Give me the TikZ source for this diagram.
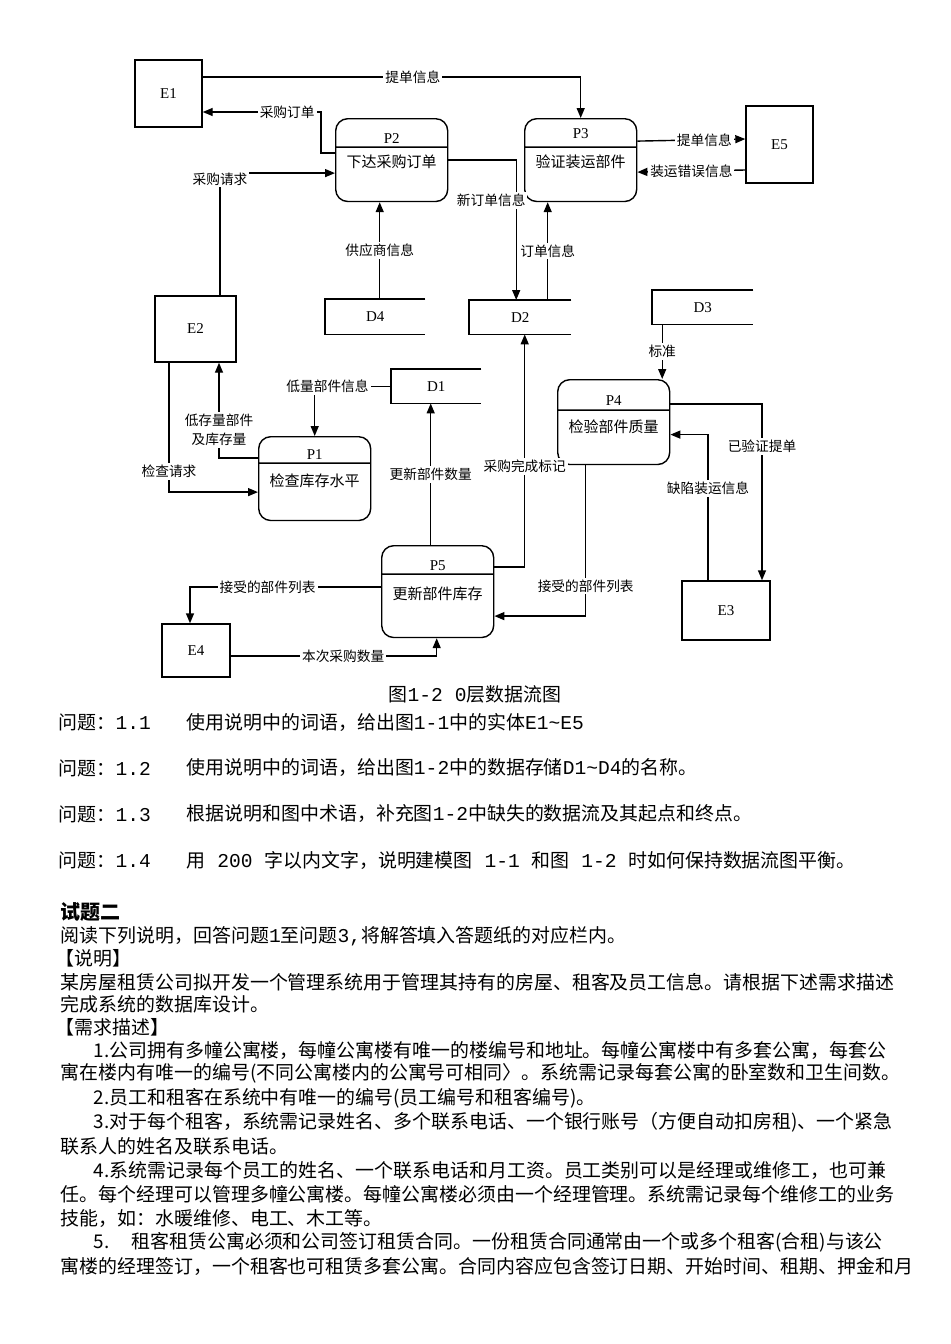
\documentclass[tikz,border=0pt]{standalone}
\usepackage{fontspec}
\setmainfont{Liberation Serif}
\newfontfamily\cjk{Noto Sans CJK SC}
\newfontfamily\monof{Liberation Mono}[Scale=1.035]
\usetikzlibrary{shapes.multipart,arrows.meta,calc}

\begin{document}
\begin{tikzpicture}[
    x=0.5pt, y=-0.5pt,
    line width=0.7pt,
    entity/.style={rectangle, draw=black, inner sep=0pt, font=\fontsize{7.5}{9}\selectfont},
    proc/.style={rectangle split, rectangle split parts=2, draw=black, rounded corners=6pt, inner sep=0pt, anchor=north west, font=\fontsize{7.5}{9}\selectfont},
    store/.style={rectangle, inner sep=0pt, anchor=north west, font=\fontsize{7.5}{9}\selectfont},
    flow/.style={->, >={Triangle[length=5pt,width=4pt]}},
    lbl/.style={fill=white, inner sep=1pt, font=\cjk\fontsize{6.85}{9.5}\selectfont},
    txt/.style={anchor=west, inner sep=0pt, font=\cjk\fontsize{9.47}{12}\selectfont}
]
\useasboundingbox (0,0) rectangle (950,1344);

% External entities
\node[entity, minimum width=33.5pt, minimum height=33.5pt] (e1) at (168.5,93.5) {E1};
\node[entity, minimum width=40.5pt, minimum height=33pt] (e2) at (195.5,329) {E2};
\node[entity, minimum width=44pt, minimum height=29.5pt] (e3) at (726,610.5) {E3};
\node[entity, minimum width=34pt, minimum height=26.5pt] (e4) at (196,650.5) {E4};
\node[entity, minimum width=33.5pt, minimum height=38.5pt] (e5) at (779.5,144.5) {E5};

% Processes
\node[proc] (p1) at (258,436) {\parbox[c][12.5pt][b]{56pt}{\centering P1\par\vspace{1.5pt}}\nodepart{two}\parbox[t][28pt][t]{56pt}{\centering\vspace{5pt}\cjk 检查库存水平}};
\node[proc] (p2) at (335,118) {\parbox[c][13.5pt][b]{56pt}{\centering P2\par\vspace{1.5pt}}\nodepart{two}\parbox[t][26.5pt][t]{56pt}{\centering\vspace{3.6pt}\cjk 下达采购订单}};
\node[proc] (p3) at (524,118) {\parbox[c][13.5pt][b]{56pt}{\centering P3\par\vspace{4pt}}\nodepart{two}\parbox[t][26.5pt][t]{56pt}{\centering\vspace{3.6pt}\cjk 验证装运部件}};
\node[proc] (p4) at (557,379) {\parbox[c][14.5pt][b]{56pt}{\centering P4\par\vspace{2pt}}\nodepart{two}\parbox[t][26.5pt][t]{56pt}{\centering\vspace{4.6pt}\cjk 检验部件质量}};
\node[proc] (p5) at (381,545) {\parbox[c][13.5pt][b]{56pt}{\centering P5\par\vspace{1.5pt}}\nodepart{two}\parbox[t][31pt][t]{56pt}{\centering\vspace{6pt}\cjk 更新部件库存}};

% Data stores (open on the right)
\node[store, minimum width=44.5pt, minimum height=16.5pt] (d1) at (391,369) {D1};
\node[store, minimum width=50.5pt, minimum height=16.5pt] (d2) at (469,300) {D2};
\node[store, minimum width=50pt, minimum height=16.5pt] (d3) at (652,290) {D3};
\node[store, minimum width=49.5pt, minimum height=17pt] (d4) at (325,299) {D4};
\foreach \s in {d1,d2,d3,d4}
    \draw (\s.north east) -- (\s.north west) -- (\s.south west) -- (\s.south east);

% Data flows
\draw[flow] ($(e1.east)+(0,-16.5)$) -| node[lbl, pos=0.278] (f1) {提单信息} (p3.north);
\draw[flow] ($(p2.west)+(0,-7)$) -- ++(-14,0) |- node[lbl, pos=0.643] (f2) {采购订单} ($(e1.east)+(0,18.5)$);
\draw[flow] ($(e2.north)+(24.5,0)$) |- node[lbl, pos=0.5, yshift=-3pt] (f3) {采购请求} ($(p2.west)+(0,13)$);
\draw[flow] ($(d4.north)+(4.5,0)$) -- node[lbl] (f4) {供应商信息} ($(p2.south)+(-12,0)$);
\draw[flow] (p2.east) -| node[lbl, pos=0.644, xshift=-12.5pt] (f5) {新订单信息} ($(d2.north)+(-4,0)$);
\draw[flow] ($(d2.north)+(27.5,0)$) -- node[lbl] (f6) {订单信息} ($(p3.south)+(-33,0)$);
\draw[flow] ($(p3.east)+(0,-19)$) -- node[lbl, pos=0.62] (f7) {提单信息} ($(e5.west)+(0,-5.5)$);
\draw[flow] ($(e5.west)+(0,25.5)$) -- node[lbl, pos=0.5] (f8) {装运错误信息} ($(p3.east)+(0,12)$);
\draw[flow] (d1.west) -| node[lbl, pos=0.416] (f9) {低量部件信息} (p1.north);
\draw[flow] ($(p1.west)+(0,-20.5)$) -| node[lbl, pos=0.649, align=center] (f10) {低存量部件\\及库存量} ($(e2.south)+(23.5,0)$);
\draw[flow] ($(e2.south)+(-26.5,0)$) |- node[lbl, pos=0.42] (f11) {检查请求} ($(p1.west)+(0,13.5)$);
\draw[flow] ($(p5.north)+(-7,0)$) -- node[lbl] (f12) {更新部件数量} ($(d1.south)+(-5.5,0)$);
\draw[flow] ($(p5.east)+(0,-24.5)$) -| node[lbl, pos=0.716] (f13) {采购完成标记} ($(d2.south)+(4.5,0)$);
\draw[flow] ($(d3.south)+(-40.5,0)$) -- node[lbl] (f14) {标准} ($(p4.north)+(48.5,0)$);
\draw[flow] ($(p4.east)+(0,-18)$) -| node[lbl, pos=0.62] (f15) {已验证提单} ($(e3.north)+(36,0)$);
\draw[flow] ($(e3.north)+(-18,0)$) |- node[lbl, pos=0.315] (f16) {缺陷装运信息} ($(p4.east)+(0,12.5)$);
\draw[flow] ($(p4.south)+(-28,0)$) |- node[lbl, pos=0.40] (f17) {接受的部件列表} ($(p5.east)+(0,24.5)$);
\draw[flow] ($(p5.west)+(0,-4.5)$) -| node[lbl, pos=0.297] (f18) {接受的部件列表} ($(e4.north)+(-6,0)$);
\draw[flow] ($(e4.east)+(0,5.5)$) -| node[lbl, pos=0.273] (f19) {本次采购数量} ($(p5.south)+(-1,0)$);

% Caption
\node[inner sep=0pt, font=\cjk\fontsize{9.47}{12}\selectfont] (cap) at (475,694) {图{\monof 1-2 0}层数据流图};

% Questions
\node[txt] (q1n) at (58,722) {问题：{\monof 1.1}};
\node[txt] (q1) at (186,722) {使用说明中的词语，给出图{\monof 1-1}中的实体{\monof E1\textasciitilde E5}};
\node[txt] (q2n) at (58,768) {问题：{\monof 1.2}};
\node[txt] (q2) at (186,768) {使用说明中的词语，给出图{\monof 1-2}中的数据存储{\monof D1\textasciitilde D4}的名称。};
\node[txt] (q3n) at (58,814) {问题：{\monof 1.3}};
\node[txt] (q3) at (186,814) {根据说明和图中术语，补充图{\monof 1-2}中缺失的数据流及其起点和终点。};
\node[txt] (q4n) at (58,860) {问题：{\monof 1.4}};
\node[txt] (q4) at (186,860) {用{\monof\ 200 }字以内文字，说明建模图{\monof\ 1-1 }和图{\monof\ 1-2 }时如何保持数据流图平衡。};

% Second exercise
\node[txt, font=\cjk\bfseries\fontsize{10}{12}\selectfont] (h2) at (60,912) {试题二};
\node[txt] (l1) at (60,936) {阅读下列说明，回答问题{\monof 1}至问题{\monof 3,}将解答填入答题纸的对应栏内。};
\node[txt] (l2) at (55,958) {【说明】};
\node[txt] (l3) at (60,982) {某房屋租赁公司拟开发一个管理系统用于管理其持有的房屋、租客及员工信息。请根据下述需求描述};
\node[txt] (l4) at (60,1004) {完成系统的数据库设计。};
\node[txt] (l5) at (55,1027) {【需求描述】};
\node[txt] (l6) at (93,1050) {1.公司拥有多幢公寓楼，每幢公寓楼有唯一的楼编号和地址。每幢公寓楼中有多套公寓，每套公};
\node[txt] (l7) at (60,1073) {寓在楼内有唯一的编号(不同公寓楼内的公寓号可相同〉。系统需记录每套公寓的卧室数和卫生间数。};
\node[txt] (l8) at (93,1098) {2.员工和租客在系统中有唯一的编号(员工编号和租客编号)。};
\node[txt] (l9) at (93,1122) {3.对于每个租客，系统需记录姓名、多个联系电话、一个银行账号（方便自动扣房租)、一个紧急};
\node[txt] (l10) at (60,1146) {联系人的姓名及联系电话。};
\node[txt] (l11) at (93,1170) {4.系统需记录每个员工的姓名、一个联系电话和月工资。员工类别可以是经理或维修工，也可兼};
\node[txt] (l12) at (60,1194) {任。每个经理可以管理多幢公寓楼。每幢公寓楼必须由一个经理管理。系统需记录每个维修工的业务};
\node[txt] (l13) at (60,1218) {技能，如：水暖维修、电工、木工等。};
\node[txt] (l14) at (93,1242) {5.\hspace{11pt}租客租赁公寓必须和公司签订租赁合同。一份租赁合同通常由一个或多个租客(合租)与该公};
\node[txt] (l15) at (60,1266) {寓楼的经理签订，一个租客也可租赁多套公寓。合同内容应包含签订日期、开始时间、租期、押金和月};

\end{tikzpicture}
\end{document}
